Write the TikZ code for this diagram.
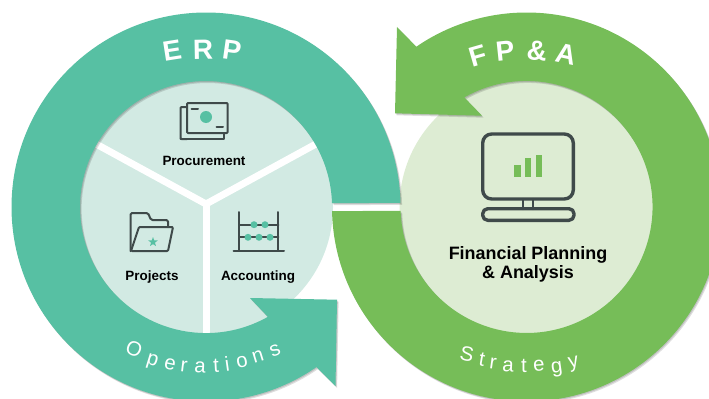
\documentclass[tikz,border=0pt]{standalone}
\usepackage{fontspec}
\setmainfont{Liberation Sans}
\usetikzlibrary{shapes.geometric}
\definecolor{tealmain}{HTML}{57C0A3}
\definecolor{teallight}{HTML}{D2EAE3}
\definecolor{greenmain}{HTML}{76BD58}
\definecolor{greenlight}{HTML}{DDECD3}
\definecolor{icondark}{HTML}{3F4A4A}
\tikzset{
  x=1bp,y=1bp,
  lbl/.style={font=\fontsize{13.5}{16}\selectfont\bfseries,text=black,inner sep=0pt},
  biglbl/.style={font=\fontsize{18}{19}\selectfont\bfseries,text=black,inner sep=0pt,align=center},
  headl/.style={font=\fontsize{28}{28}\selectfont\bfseries,text=white,inner sep=0pt},
  subl/.style={font=\fontsize{20.5}{21}\selectfont,text=white,inner sep=0pt},
  icon/.style={draw=icondark,line width=2bp,line join=round,line cap=round},
  iconb/.style={draw=icondark,line width=3.4bp,line join=round},
  spoke/.style={draw=white,line width=7bp},
  bead/.style={fill=tealmain,draw=none},
  shade/.style={fill=black,opacity=.13,draw=none}
}
\newcommand{\tealpath}{(400.46,195.07) arc[start angle=1.2,end angle=304.6,radius=194.5bp]
  -- (335.5,12) -- (337,98.3) -- (250,100) -- (267.9,81.2)
  arc[start angle=299.4,end angle=1.8,radius=126bp] -- cycle}
\newcommand{\greenpath}{(332.04,186.93) arc[start angle=181.2,end angle=484.5,radius=194.5bp]
  -- (397,371) -- (395,284.7) -- (482,282.3) -- (464.3,300.6)
  arc[start angle=479.6,end angle=181.8,radius=126bp] -- cycle}
\begin{document}
\begin{tikzpicture}
\useasboundingbox (0,0) rectangle (709,398);
\clip (0,0) rectangle (709,398);
% light discs
\fill[teallight] (206,191) circle[radius=127bp];
\fill[greenlight] (526.5,191) circle[radius=127bp];
% spokes
\coordinate (hub) at (206,194);
\coordinate (spA) at (89.3,257.7);
\coordinate (spB) at (322.7,257.7);
\coordinate (spC) at (206,60);
\draw[spoke] (spA) -- (hub) -- (spB);
\draw[spoke] (hub) -- (spC);
% shadows
\fill[shade,shift={(.8,-1)}] \tealpath;
\fill[shade,shift={(1.6,-2)}] \tealpath;
\fill[shade,shift={(.8,-1)}] \greenpath;
\fill[shade,shift={(1.6,-2)}] \greenpath;
% rings
\fill[tealmain] \tealpath;
\fill[greenmain] \greenpath;
% ring titles
\node[headl,rotate=9] (e1) at (172,347) {E};
\node[headl,rotate=1] (e2) at (203,348) {R};
\node[headl,rotate=-8] (e3) at (232,348) {P};
\node[headl,rotate=16] (f1) at (478,342) {F};
\node[headl,rotate=6] (f2) at (505,347) {P};
\node[headl,rotate=-5] (f3) at (537,347) {\&};
\node[headl,rotate=-12] (f4) at (566,344) {A};
% Operations
\node[subl,rotate=-22] (o1) at (134,49) {O};
\node[subl,rotate=-17] (o2) at (152,36) {p};
\node[subl,rotate=-12] (o3) at (170,34) {e};
\node[subl,rotate=-7] (o4) at (184,32) {r};
\node[subl,rotate=-3] (o5) at (200,31) {a};
\node[subl,rotate=3] (o6) at (216,32) {t};
\node[subl,rotate=8] (o7) at (227,34) {i};
\node[subl,rotate=12] (o8) at (242,36) {o};
\node[subl,rotate=17] (o9) at (258,41) {n};
\node[subl,rotate=22] (o10) at (275,47) {s};
% Strategy
\node[subl,rotate=-12] (s1) at (467,44) {S};
\node[subl,rotate=-10] (s2) at (482,38) {t};
\node[subl,rotate=-8] (s3) at (493,34) {r};
\node[subl,rotate=-3] (s4) at (508,32) {a};
\node[subl,rotate=0] (s5) at (524,32) {t};
\node[subl,rotate=4] (s6) at (539,32) {e};
\node[subl,rotate=8] (s7) at (557,29) {g};
\node[subl,rotate=12] (s8) at (574,34) {y};
% labels
\node[lbl] (proc) at (204,237.5) {Procurement};
\node[lbl] (proj) at (152,121) {Projects};
\node[lbl] (acct) at (258,121) {Accounting};
\node[biglbl] (fpa) at (528,134) {Financial Planning\\\& Analysis};
% money icon
\draw[icon,rounded corners=1bp] (187,259) -- (180.5,259) -- (180.5,291) -- (187,291);
\draw[icon] (180.5,259) -- (224,259) -- (224,265);
\draw[icon,rounded corners=1bp,fill=teallight] (187,265) rectangle (227.7,295);
\fill[tealmain] (206,281) circle[radius=6bp];
\draw[icon] (191.5,289.3) -- (198,289.3);
\draw[icon] (216.5,270.8) -- (223,270.8);
% folder icon
\draw[icon,rounded corners=1.5bp] (130.5,147) -- (130.5,185) -- (148,185) -- (151,178) -- (168,178) -- (168,171);
\draw[icon,rounded corners=1bp] (131,147) -- (139,171) -- (173,171) -- (168,147) -- cycle;
\node[star,star points=5,star point ratio=2.4,fill=tealmain,minimum size=10bp,inner sep=0pt] (fstar) at (153,156) {};
% abacus icon
\draw[icon] (239.3,186) -- (239.3,147.3);
\draw[icon] (278.3,186) -- (278.3,147.3);
\draw[icon] (233.5,147.3) -- (284,147.3);
\draw[icon] (239.3,173.3) -- (278.3,173.3);
\draw[icon] (239.3,160.7) -- (278.3,160.7);
\foreach \bx in {254,265} \fill[bead] (\bx,173.3) circle[radius=3.5bp];
\foreach \bx in {248,259,270} \fill[bead] (\bx,160.7) circle[radius=3.5bp];
% monitor icon
\draw[iconb,rounded corners=9bp] (482.7,199) rectangle (573.3,264);
\fill[greenmain] (514.3,221.3) rectangle (520.7,233);
\fill[greenmain] (525,221.3) rectangle (531,239.7);
\fill[greenmain] (536,221.3) rectangle (542,242.7);
\draw[icon,line width=2.2bp] (523.3,199) -- (523.3,189);
\draw[icon,line width=2.2bp] (533.3,199) -- (533.3,189);
\draw[iconb,rounded corners=5bp] (482.7,177.7) rectangle (574,189.3);
\end{tikzpicture}
\end{document}
